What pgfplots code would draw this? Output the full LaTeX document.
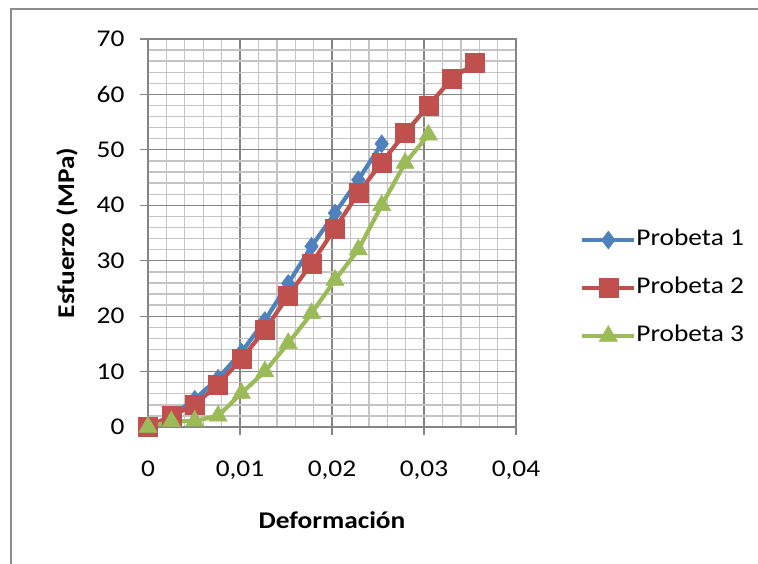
\documentclass[border=0pt]{standalone}
\usepackage{fontspec}
\setmainfont{Carlito}[FakeStretch=1.14]
\usepackage{pgfplots}
\pgfplotsset{compat=1.18}
\definecolor{c1}{HTML}{4F81BD}
\definecolor{c2}{HTML}{C0504D}
\definecolor{c3}{HTML}{9BBB59}
\definecolor{majg}{HTML}{858585}
\definecolor{ming}{HTML}{C4C4C4}
\definecolor{frameg}{HTML}{8C8C8C}
\begin{document}
\begin{tikzpicture}
\useasboundingbox (0pt,0pt) rectangle (758pt,563pt);
\fill[white] (0pt,0pt) rectangle (758pt,563pt);
\draw[frameg, line width=2pt] (10.5pt,-2pt) -- (10.5pt,554pt) -- (770pt,554pt);
\begin{axis}[
  at={(148pt,136pt)}, anchor=south west,
  scale only axis, width=368pt, height=388pt,
  xmin=0, xmax=0.04, ymin=0, ymax=70,
  xtick={0,0.01,0.02,0.03,0.04},
  xticklabels={0,{0,01},{0,02},{0,03},{0,04}},
  ytick={0,10,...,70},
  minor x tick num=4, minor y tick num=4,
  scaled x ticks=false,
  grid=both,
  major grid style={draw=majg, line width=1.1pt},
  minor grid style={draw=ming, line width=1.4pt},
  axis line style={draw=majg, line width=1.1pt},
  tick pos=left, tick align=outside,
  major tick length=8pt, minor tick length=0pt,
  tick style={draw=majg, line width=1.1pt},
  /pgf/number format/assume math mode=true,
  ticklabel style={font=\fontsize{24}{28}\selectfont, text=black},
  yticklabel style={xshift=-12pt},
  xticklabel style={yshift=-22pt},
  xlabel={Deformación},
  ylabel={Esfuerzo (MPa)},
  xlabel style={font=\fontsize{24}{28}\selectfont\bfseries, at={(axis description cs:0.5,-0.262)}, anchor=base},
  ylabel style={font=\fontsize{24}{28}\selectfont\bfseries, at={(axis description cs:-0.201,0.5)}, anchor=base},
  legend cell align=left,
  legend style={at={(axis description cs:1.174,0.358)}, anchor=west, draw=none, fill=none,
    inner sep=0pt, row sep=27pt,
    font=\fontsize{24}{28}\selectfont,
    nodes={inner sep=0pt, text height=16pt, text depth=5pt},
    /tikz/every even column/.append style={column sep=4pt}},
  legend image code/.code={\draw[#1, mark=none] (0pt,0pt) -- (52pt,0pt);
    \draw[#1, only marks] plot coordinates {(26pt,0pt)};},
]
\addplot[c1, line width=4.2pt, mark=diamond*, mark size=9pt, mark options={solid, line width=0.5pt, fill=c1}] coordinates {
(0,0) (0.00254,2) (0.00508,5) (0.00762,8.8) (0.01016,13.5) (0.0127,19.2)
(0.01524,25.9) (0.01778,32.6) (0.02032,38.6) (0.02286,44.6) (0.0254,51.1)
};
\addlegendentry{Probeta 1}
\addplot[c2, line width=4.2pt, mark=square*, mark size=9.5pt, mark options={solid, line width=0.5pt, fill=c2}] coordinates {
(0,0) (0.00254,2) (0.00508,4) (0.00762,7.7) (0.01016,12.3) (0.0127,17.5)
(0.01524,23.7) (0.01778,29.5) (0.02032,35.8) (0.02286,42.2) (0.0254,47.7)
(0.02794,53) (0.03048,58) (0.03302,62.8) (0.03556,65.7)
};
\addlegendentry{Probeta 2}
\addplot[c3, line width=4.2pt, mark=triangle*, mark size=10.5pt, mark options={solid, line width=0.5pt, fill=c3}] coordinates {
(0,0) (0.00254,1) (0.00508,1.1) (0.00762,2) (0.01016,6.1) (0.0127,10)
(0.01524,15.1) (0.01778,20.5) (0.02032,26.5) (0.02286,32) (0.0254,40)
(0.02794,47.6) (0.03048,52.7)
};
\addlegendentry{Probeta 3}
\end{axis}
\end{tikzpicture}
\end{document}
